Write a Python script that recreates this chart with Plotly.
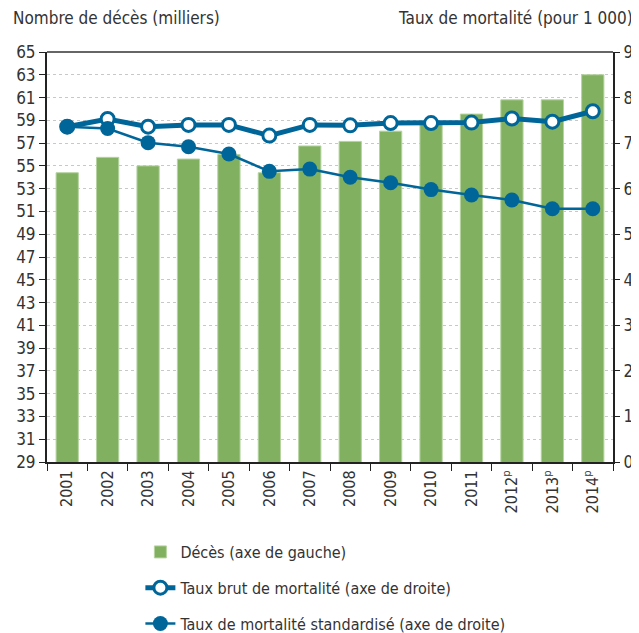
import plotly.graph_objects as go

years = ["2001", "2002", "2003", "2004", "2005", "2006", "2007", "2008", "2009",
         "2010", "2011", "2012<sup>p</sup>", "2013<sup>p</sup>", "2014<sup>p</sup>"]
deces = [54.4, 55.75, 55.0, 55.6, 56.0, 54.4, 56.75, 57.15, 58.05, 58.7, 59.55, 60.8, 60.8, 63.0]
taux_brut = [7.36, 7.53, 7.36, 7.40, 7.40, 7.165, 7.40, 7.39, 7.44, 7.44, 7.45, 7.54, 7.47, 7.70]
taux_std = [7.36, 7.32, 7.01, 6.92, 6.76, 6.38, 6.43, 6.25, 6.13, 5.98, 5.86, 5.75, 5.56, 5.56]

left_ticks = list(range(29, 66, 2))
right_ticks = list(range(0, 10))

BLUE = "#006699"
GREEN = "#80B060"
FONT = "DejaVu Sans Condensed, Liberation Sans Narrow, sans-serif"

# page body has an 8px default margin, so the figure is drawn 8px smaller
W, H = 631, 625
ML, MR, MT, MB = 39, 26, 44, 171
PW = W - ML - MR
PH = H - MT - MB

fig = go.Figure()
fig.add_trace(go.Bar(
    x=years, y=deces, name="Décès (axe de gauche)",
    marker=dict(color=GREEN, line=dict(color="#B5D3A0", width=1)),
    width=0.55, legendgroup="a", yaxis="y",
))
fig.add_trace(go.Scatter(
    x=years, y=taux_brut, name="Taux brut de mortalité (axe de droite)",
    mode="lines+markers", yaxis="y2", legendgroup="b",
    line=dict(color=BLUE, width=5),
    marker=dict(size=13, color="white", line=dict(color=BLUE, width=3)),
))
fig.add_trace(go.Scatter(
    x=years, y=taux_std, name="Taux de mortalité standardisé (axe de droite)",
    mode="lines+markers", yaxis="y2", legendgroup="c",
    line=dict(color=BLUE, width=2.5),
    marker=dict(size=15, color=BLUE),
))

fig.update_layout(
    width=W, height=H,
    margin=dict(l=ML, r=MR, t=MT, b=MB, autoexpand=False),
    paper_bgcolor="white", plot_bgcolor="white",
    font=dict(family=FONT, color="#333333", size=17),
    xaxis=dict(
        type="category", range=[-0.5, len(years) - 0.5],
        tickson="boundaries", ticks="outside", ticklen=7,
        tickcolor="#222", showline=True, linecolor="#222", linewidth=2,
        tickangle=-90, tickfont=dict(size=16), showgrid=False, automargin=False,
    ),
    yaxis=dict(
        range=[29, 65], tickvals=left_ticks, ticks="outside", ticklen=6,
        tickcolor="#222", showline=True, linecolor="#222", linewidth=2,
        showgrid=True, gridcolor="#C8C8C8", griddash="dot", gridwidth=1,
        tickfont=dict(size=17), zeroline=False, automargin=False,
    ),
    yaxis2=dict(
        range=[0, 9], tickvals=right_ticks, overlaying="y", side="right",
        ticks="outside", ticklen=5, tickcolor="#222", showline=True,
        linecolor="#222", linewidth=2, showgrid=False, zeroline=False,
        tickfont=dict(size=17), automargin=False,
    ),
    legend=dict(
        x=0.165, y=-73 / PH, xanchor="left", yanchor="top",
        font=dict(size=16), tracegroupgap=12, bgcolor="rgba(0,0,0,0)",
    ),
    showlegend=True,
    shapes=[dict(type="line", xref="paper", yref="paper", x0=0, x1=1, y0=1, y1=1,
                 line=dict(color="#333", width=1.5))],
    annotations=[
        dict(text="Nombre de décès (milliers)", xref="paper", yref="paper",
             x=-36 / PW, y=1.0, yshift=22, xanchor="left", yanchor="bottom",
             showarrow=False, font=dict(size=17)),
        dict(text="Taux de mortalité (pour 1 000)", xref="paper", yref="paper",
             x=1 + 22 / PW, y=1.0, yshift=22, xanchor="right", yanchor="bottom",
             showarrow=False, font=dict(size=17)),
    ],
)

fig.write_html("out.html")
